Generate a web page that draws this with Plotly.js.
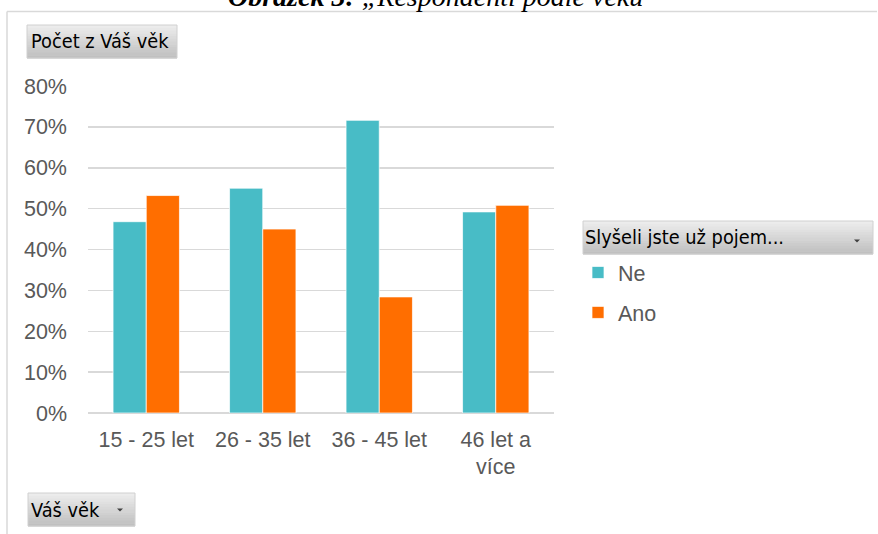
<!DOCTYPE html>
<html>
<head>
<meta charset="utf-8">
<script src="https://cdn.plot.ly/plotly-3.0.1.min.js"></script>
<style>
html,body{margin:0;padding:0;background:#fff;}
#chart{width:878px;height:534px;}
</style>
</head>
<body>
<div id="chart"></div>
<script>
// ---- data ----
const categories = ['15 - 25 let', '26 - 35 let', '36 - 45 let', '46 let a<br>více'];
const neValues = [0.468, 0.550, 0.716, 0.492];
const anoValues = [0.532, 0.450, 0.284, 0.508];
const seriesNames = ['Ne', 'Ano'];
const yTickVals = [0, 0.1, 0.2, 0.3, 0.4, 0.5, 0.6, 0.7, 0.8];

// ---- geometry helpers (pixel -> paper) ----
const W = 878, H = 534;
const L = 88, R = 554, T = 86, B = 413;
const px = x => (x - L) / (R - L);
const py = y => (B - y) / (B - T);

const grey = '#595959';
const tickFont = {family: 'Liberation Sans, Arial, sans-serif', size: 21.5, color: grey};
const btnFont = {family: 'DejaVu Sans Condensed, sans-serif', size: 19.8, color: '#000'};

// gradient button from stacked strips
function button(x0, y0, x1, y1) {
  const shapes = [];
  const n = 12;
  const top = [236, 236, 236], bot = [192, 192, 192];
  for (let i = 0; i < n; i++) {
    const f = i / (n - 1);
    const c = top.map((v, k) => Math.round(v + (bot[k] - v) * f));
    const ya = y0 + (y1 - y0) * i / n, yb = y0 + (y1 - y0) * (i + 1) / n;
    shapes.push({type: 'rect', xref: 'paper', yref: 'paper', layer: 'below',
      x0: px(x0), x1: px(x1), y0: py(ya), y1: py(yb + 0.5),
      fillcolor: `rgb(${c[0]},${c[1]},${c[2]})`, line: {width: 0}});
  }
  shapes.push({type: 'rect', xref: 'paper', yref: 'paper', layer: 'below',
    x0: px(x0), x1: px(x1), y0: py(y0), y1: py(y1),
    fillcolor: 'rgba(0,0,0,0)', line: {width: 1, color: '#d0d0d0'}});
  return shapes;
}
function arrow(cx, cy) {
  const a = px(cx - 3), b = px(cx + 3), c = px(cx), yt = py(cy - 1.5), yb = py(cy + 1.5);
  return {type: 'path', xref: 'paper', yref: 'paper',
    path: `M ${a} ${yt} L ${b} ${yt} L ${c} ${yb} Z`,
    fillcolor: '#404040', line: {width: 0}};
}

const shapes = [
  // outer frame lines
  {type: 'line', xref: 'paper', yref: 'paper', x0: px(7), x1: px(877), y0: py(11.5), y1: py(11.5), line: {color: '#d9d9d9', width: 1.5}},
  {type: 'line', xref: 'paper', yref: 'paper', x0: px(7), x1: px(7), y0: py(11.5), y1: py(534), line: {color: '#d9d9d9', width: 1.5}},
  ...button(27, 25, 177, 58),
  ...button(583, 221, 873, 254),
  ...button(28, 493, 135, 526),
  arrow(857, 241),
  arrow(120, 510)
];

const annotations = [
  {xref: 'paper', yref: 'paper', x: px(435), y: py(14), xanchor: 'center', yanchor: 'bottom', showarrow: false,
   text: '<b><i>Obrázek 3:</i></b><i> „Respondenti podle věku</i>',
   font: {family: 'Liberation Serif, serif', size: 28, color: '#000'}},
  {xref: 'paper', yref: 'paper', x: px(29), y: py(41.5), xanchor: 'left', yanchor: 'middle', showarrow: false,
   text: 'Počet z Váš věk', font: btnFont},
  {xref: 'paper', yref: 'paper', x: px(583), y: py(238), xanchor: 'left', yanchor: 'middle', showarrow: false,
   text: 'Slyšeli jste už pojem...', font: btnFont},
  {xref: 'paper', yref: 'paper', x: px(29), y: py(510), xanchor: 'left', yanchor: 'middle', showarrow: false,
   text: 'Váš věk', font: btnFont}
];

const traces = [
  {type: 'bar', name: seriesNames[0], x: categories, y: neValues, legendgroup: 'a',
   marker: {color: '#48BCC6', line: {color: 'rgba(255,255,255,0.7)', width: 1}}, hoverinfo: 'skip'},
  {type: 'bar', name: seriesNames[1], x: categories, y: anoValues, legendgroup: 'b',
   marker: {color: '#FF6E00', line: {color: 'rgba(255,255,255,0.7)', width: 1}}, hoverinfo: 'skip'}
];

const layout = {
  width: W, height: H,
  margin: {l: L, r: W - R, t: T, b: H - B, pad: 0},
  paper_bgcolor: '#fff', plot_bgcolor: '#fff',
  barmode: 'group', bargap: 0.43, bargroupgap: 0,
  showlegend: true,
  legend: {x: px(578), y: py(252), xanchor: 'left', yanchor: 'top',
    font: tickFont, traceorder: 'grouped', tracegroupgap: 9, bgcolor: 'rgba(0,0,0,0)'},
  xaxis: {type: 'category', tickfont: tickFont, showgrid: false, showline: false, zeroline: false,
    ticks: '', ticklabelstandoff: 11, fixedrange: true},
  yaxis: {range: [0, 0.8], tickvals: yTickVals, tickformat: '.0%', tickfont: tickFont,
    showgrid: true, gridcolor: '#d9d9d9', gridwidth: 1.5, zeroline: true, zerolinecolor: '#d9d9d9', zerolinewidth: 1.5,
    showline: false, ticks: '', ticklabelstandoff: 20, fixedrange: true},
  shapes: shapes,
  annotations: annotations
};

Plotly.newPlot('chart', traces, layout, {displayModeBar: false, staticPlot: true});
</script>
</body>
</html>
